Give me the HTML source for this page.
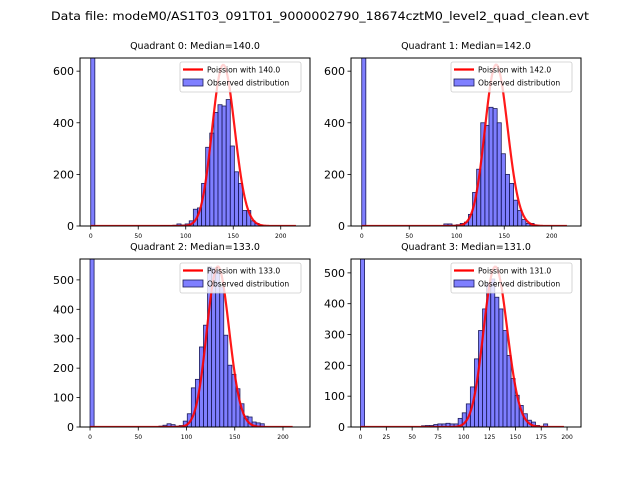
<!DOCTYPE html>
<html><head><meta charset="utf-8"><style>
body{margin:0;background:#fff;}
svg{display:block;font-family:"DejaVu Sans","Liberation Sans",sans-serif;}
</style></head><body>
<svg id="fig" width="640" height="480" xmlns="http://www.w3.org/2000/svg">
<rect width="640" height="480" fill="#fff"/>
<text x="320" y="20" font-size="11.5" text-anchor="middle" textLength="538" lengthAdjust="spacingAndGlyphs">Data file: modeM0/AS1T03_091T01_9000002790_18674cztM0_level2_quad_clean.evt</text>
</svg>
<script>
const medians = [140.0, 142.0, 133.0, 131.0];
const binWidths = [4.32, 4.32, 4.2, 3.94];
const dataMax = [216, 216, 210, 197];
const curvePeaks = [624, 625, 545, 520];
const zeroBin = [2000, 2000, 2000, 2000];
const q0Counts = {start:17, values:[2,2,2,3,8,4,8,20,65,70,165,305,360,440,470,465,490,310,210,165,60,60,20,10,3]};
const q1Counts = {start:20, values:[8,8,3,5,10,15,45,130,220,400,390,460,455,400,280,200,165,100,60,25,10,10,3]};
const q2Counts = {start:17, values:[3,6,11,8,3,5,20,45,133,162,272,346,544,540,530,476,312,210,179,130,79,37,34,17,14,11]};
const q3Counts = {start:15, values:[4,5,5,8,10,10,12,10,10,28,46,75,130,221,313,383,465,480,421,383,313,232,157,103,70,43,22,16,5,2,10]};
const allCounts = [q0Counts, q1Counts, q2Counts, q3Counts];
const yLims = [651, 651, 571, 545];
const xLimsLo = [-11.3, -11.3, -10.4, -9.2];
const xLimsHi = [230.8, 230.8, 228, 213.5];
const xTicks = [[0,50,100,150,200],[0,50,100,150,200],[0,50,100,150,200],[0,25,50,75,100,125,150,175,200]];
const yTicks = [[0,200,400,600],[0,200,400,600],[0,100,200,300,400,500],[0,100,200,300,400,500]];

const boxes = [[80,58,310,226],[351,58,581,226],[80,259,310,427],[351,259,581,427]];
const NS='http://www.w3.org/2000/svg';
const svg=document.getElementById('fig');
function mk(tag,attrs,parent){const e=document.createElementNS(NS,tag);for(const k in attrs)e.setAttribute(k,attrs[k]);(parent||svg).appendChild(e);return e;}
function lgamma(x){return (x-0.5)*Math.log(x)-x+0.5*Math.log(2*Math.PI)+1/(12*x)-1/(360*x*x*x);}
function logpmf(k,mu){return k*Math.log(mu)-mu-lgamma(k+1);}

for(let q=0;q<4;q++){
  const [x0,y0,x1,y1]=boxes[q];
  const xs=v=>x0+(v-xLimsLo[q])/(xLimsHi[q]-xLimsLo[q])*(x1-x0);
  const ys=v=>y1-v/yLims[q]*(y1-y0);
  const g=mk('g',{});
  
  
  const cid='clip'+q;
  const cp=mk('clipPath',{id:cid},g);mk('rect',{x:x0,y:y0,width:x1-x0,height:y1-y0},cp);
  const bars=mk('g',{'clip-path':'url(#'+cid+')'},g);
  const w=binWidths[q];
  function bar(i,v){
    const r=mk('rect',{x:xs(i*w),y:ys(v),width:xs((i+1)*w)-xs(i*w),height:ys(0)-ys(v),fill:'rgba(0,0,255,0.5)',stroke:'#1c1c5a','stroke-width':0.8},bars);
    
    
  }
  bar(0,zeroBin[q]);
  const c=allCounts[q];
  c.values.forEach((v,j)=>bar(c.start+j,v));
  const mu=medians[q];const ref=logpmf(Math.round(mu),mu);
  let d='';
  for(let k=0;k<=dataMax[q];k++){
    const v=curvePeaks[q]*Math.exp(logpmf(k,mu)-ref);
    d+=(k?'L':'M')+xs(k).toFixed(2)+' '+ys(v).toFixed(2);
  }
  const cv=mk('path',{d:d,fill:'none',stroke:'red','stroke-width':2.2,'stroke-opacity':0.9,'clip-path':'url(#'+cid+')'},g);
  
  
  const fr=mk('rect',{x:x0,y:y0,width:x1-x0,height:y1-y0,fill:'none',stroke:'#000','stroke-width':1},g);
  
  
  xTicks[q].forEach(t=>{
    const X=xs(t);
    mk('line',{x1:X,y1:y1,x2:X,y2:y1+3.5,stroke:'#000','stroke-width':0.8},g);
    const tx=mk('text',{x:X,y:y1+12,'font-size':6,'text-anchor':'middle'},g);
    tx.textContent=t;
    
    
  });
  yTicks[q].forEach(t=>{
    const Y=ys(t);
    mk('line',{x1:x0,y1:Y,x2:x0-3.5,y2:Y,stroke:'#000','stroke-width':0.8},g);
    const tx=mk('text',{x:x0-6,y:Y+4,'font-size':11,'text-anchor':'end'},g);
    tx.textContent=t;
    
    
  });
  const tt=mk('text',{x:(x0+x1)/2,y:y0-9,'font-size':9.5,'text-anchor':'middle'},g);
  tt.textContent='Quadrant '+q+': Median='+medians[q].toFixed(1);
  
  
  const lg=mk('g',{},g);
  
  
  const lx=x0+100,ly=y0+4;
  mk('rect',{x:lx,y:ly,width:121,height:30,fill:'#fff','fill-opacity':0.8,stroke:'#ccc','stroke-width':0.8,rx:2},lg);
  mk('line',{x1:lx+3,y1:ly+7.5,x2:lx+23,y2:ly+7.5,stroke:'red','stroke-width':2.2},lg);
  const t1=mk('text',{x:lx+27,y:ly+10.5,'font-size':7.6},lg);
  t1.textContent='Poission with '+medians[q].toFixed(1);
  
  
  mk('rect',{x:lx+3,y:ly+17,width:20,height:7,fill:'rgba(0,0,255,0.5)',stroke:'#1c1c5a','stroke-width':0.8},lg);
  const t2=mk('text',{x:lx+27,y:ly+23.5,'font-size':7.6},lg);
  t2.textContent='Observed distribution';
  
  
}
</script>
</body></html>
